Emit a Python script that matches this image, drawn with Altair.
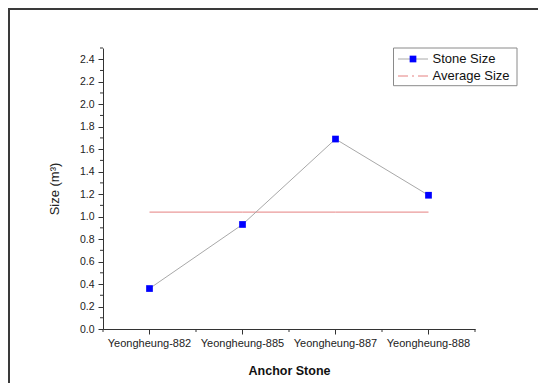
import altair as alt
import pandas as pd

# ---- data ----
categories = ["Yeongheung-882", "Yeongheung-885", "Yeongheung-887", "Yeongheung-888"]
stone_size = [0.36, 0.93, 1.69, 1.19]
average_size = 1.04
y_major = [0.0, 0.2, 0.4, 0.6, 0.8, 1.0, 1.2, 1.4, 1.6, 1.8, 2.0, 2.2, 2.4]
y_minor = [0.1, 0.3, 0.5, 0.7, 0.9, 1.1, 1.3, 1.5, 1.7, 1.9, 2.1, 2.3, 2.5]
series_names = ["Stone Size", "Average Size"]
x_title = "Anchor Stone"
y_title = "Size (m³)"

W, H = 372, 281
FONT = "Liberation Sans"
AXC = "#333333"

df = pd.DataFrame({"stone": categories, "size": stone_size,
                   "avg": [average_size] * len(categories)})
minor_df = pd.DataFrame({"v": y_minor})
edge_df = pd.DataFrame({"stone": categories})
one = alt.Data(values=[{}])

x_scale = alt.Scale(type="band", domain=categories, paddingInner=0, paddingOuter=0)
y_scale = alt.Scale(domain=[0, 2.5], nice=False, zero=True)

x_axis = alt.Axis(title=x_title, labelFont=FONT, labelFontSize=11, labelColor="#222222",
                  labelAngle=0, labelPadding=3, tickSize=5, tickColor=AXC,
                  domainColor=AXC, titleFont=FONT, titleFontSize=12.5,
                  titleFontWeight="bold", titleColor="#111111", titlePadding=16,
                  grid=False)
y_axis = alt.Axis(title=y_title, values=y_major, format=".1f", labelFont=FONT,
                  labelFontSize=10.5, labelColor="#222222", labelPadding=4, tickSize=5,
                  tickColor=AXC, domainColor=AXC, titleFont=FONT, titleFontSize=13,
                  titleFontWeight="normal", titleColor="#222222", titlePadding=18,
                  grid=False)

X = alt.X("stone:N", scale=x_scale, axis=x_axis)

frame = alt.Chart(one).mark_rect(fillOpacity=0, stroke="#3a3a3a", strokeWidth=2).encode(
    x=alt.value(-94), x2=alt.value(W + 120), y=alt.value(-39), y2=alt.value(H + 120))

avg_line = alt.Chart(df).mark_line(color="#e58080", strokeWidth=1).encode(
    x=X, y=alt.Y("avg:Q", scale=y_scale, axis=y_axis))

stone_line = alt.Chart(df).mark_line(color="#a8a8a8", strokeWidth=1).encode(
    x=X, y=alt.Y("size:Q", scale=y_scale, axis=y_axis))

points = alt.Chart(df).mark_square(color="#0000ff", size=45, opacity=1).encode(
    x=X, y=alt.Y("size:Q", scale=y_scale, axis=y_axis))

y_minor_ticks = alt.Chart(minor_df).mark_rule(color=AXC, strokeWidth=1).encode(
    y=alt.Y("v:Q", scale=y_scale, axis=y_axis), x=alt.value(-3), x2=alt.value(0))

x_minor_ticks = alt.Chart(edge_df).mark_rule(color=AXC, strokeWidth=1).encode(
    x=alt.X("stone:N", scale=x_scale, axis=x_axis, bandPosition=0),
    y=alt.value(H), y2=alt.value(H + 3))

x_end_tick = alt.Chart(edge_df).transform_filter(
    alt.datum.stone == categories[-1]).mark_rule(color=AXC, strokeWidth=1).encode(
    x=alt.X("stone:N", scale=x_scale, axis=x_axis, bandPosition=1),
    y=alt.value(H), y2=alt.value(H + 3))

# ---- legend ----
lx0, lx1, ly0, ly1 = 290.5, 414, 0, 37.7
legend_box = alt.Chart(one).mark_rect(fill="white", stroke="#8a8a8a", strokeWidth=1).encode(
    x=alt.value(lx0), x2=alt.value(lx1), y=alt.value(ly0), y2=alt.value(ly1))
leg1_line = alt.Chart(one).mark_rule(color="#a8a8a8", strokeWidth=1).encode(
    x=alt.value(295), x2=alt.value(325), y=alt.value(11))
leg1_pt = alt.Chart(one).mark_square(color="#0000ff", size=45, opacity=1).encode(
    x=alt.value(310), y=alt.value(11))
leg2_line = alt.Chart(one).mark_rule(color="#e58080", strokeWidth=1,
                                     strokeDash=[10, 4, 2, 4]).encode(
    x=alt.value(295), x2=alt.value(325), y=alt.value(28))
leg1_txt = alt.Chart(one).mark_text(text=series_names[0], font=FONT, fontSize=13,
                                    align="left", baseline="middle", color="#111111").encode(
    x=alt.value(329.5), y=alt.value(11))
leg2_txt = alt.Chart(one).mark_text(text=series_names[1], font=FONT, fontSize=13,
                                    align="left", baseline="middle", color="#111111").encode(
    x=alt.value(329.5), y=alt.value(28))

chart = alt.layer(
    frame, avg_line, stone_line, points, y_minor_ticks, x_minor_ticks, x_end_tick,
    legend_box, leg1_line, leg1_pt, leg2_line, leg1_txt, leg2_txt
).properties(
    width=W, height=H,
    padding={"left": 95, "top": 40, "right": 63, "bottom": 54},
    autosize=alt.AutoSizeParams(type="none"),
    background="white",
).configure_view(stroke="transparent")

chart.save("out.html", embed_options={"renderer": "svg", "actions": False})
